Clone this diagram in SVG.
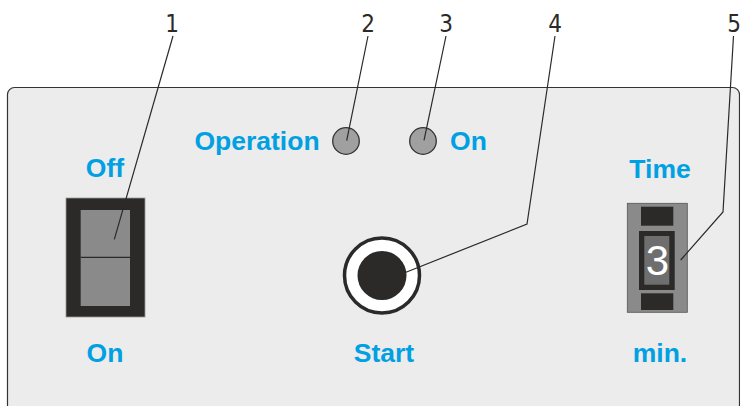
<svg xmlns="http://www.w3.org/2000/svg" width="740" height="406" viewBox="0 0 740 406">
<style>
.lbl{font-family:"Liberation Sans",Arial,sans-serif;font-weight:bold;font-size:26.5px;fill:#00a0e3;text-anchor:middle}
.num{font-family:"DejaVu Sans Condensed","DejaVu Sans",sans-serif;font-stretch:condensed;font-size:24px;fill:#2b2a29;text-anchor:middle}
.lead{fill:none;stroke:#2b2a29;stroke-width:1.2}
.dark{fill:#2b2a29}
.grey{fill:#8a8a8a}
</style>
<rect width="740" height="406" fill="#ffffff"/>
<g id="panel">
<rect x="7.5" y="87.5" width="732" height="340" rx="7" fill="#ebeceb" stroke="#333" stroke-width="1.2"/>
</g>
<g id="switch">
<rect x="66" y="198" width="79" height="119" class="dark" stroke="#9a9a9a" stroke-width="0.8"/>
<rect x="80.7" y="210" width="49.3" height="96" class="grey"/>
<line x1="80.7" y1="257.3" x2="130" y2="257.3" stroke="#2b2a29" stroke-width="1.2"/>
<text x="105" y="177" class="lbl">Off</text>
<text x="105" y="362" class="lbl">On</text>
</g>
<g id="led-operation">
<circle cx="346" cy="141" r="13.3" fill="#a0a0a0" stroke="#333" stroke-width="1.3"/>
<text x="257" y="150" class="lbl">Operation</text>
</g>
<g id="led-on">
<circle cx="423" cy="141" r="13.3" fill="#a0a0a0" stroke="#333" stroke-width="1.3"/>
<text x="468.5" y="150" class="lbl">On</text>
</g>
<g id="start">
<circle cx="382" cy="275.5" r="37.5" fill="#ffffff" stroke="#2b2a29" stroke-width="3.5"/>
<circle cx="382" cy="275.5" r="24.5" class="dark"/>
<text x="384" y="362" class="lbl">Start</text>
</g>
<g id="timer">
<rect x="627.3" y="203.3" width="60" height="109" class="grey" stroke="#555" stroke-width="0.8"/>
<rect x="641" y="206.7" width="32.3" height="19" class="dark"/>
<rect x="641" y="293.3" width="32.3" height="16.7" class="dark"/>
<rect x="639" y="231" width="35.7" height="59" class="dark"/>
<rect x="644.3" y="236" width="25" height="48.7" fill="#6e6e6e"/>
<text x="657.5" y="275" font-family="Liberation Sans,Arial,sans-serif" font-size="42" fill="#ffffff" text-anchor="middle">3</text>
<text x="660" y="178" class="lbl">Time</text>
<text x="660" y="362" class="lbl">min.</text>
</g>
<g id="connectors">
<polyline class="lead" points="173,36 114.3,239.3"/>
<polyline class="lead" points="368,36 346.7,140.7"/>
<polyline class="lead" points="446,36 424,140.3"/>
<polyline class="lead" points="555,36 527,224 406,272.3"/>
<polyline class="lead" points="733.5,36 723,212 680.7,260"/>
</g>
<g id="callouts">
<text x="172" y="32" class="num">1</text>
<text x="368" y="32" class="num">2</text>
<text x="446" y="32" class="num">3</text>
<text x="555" y="32" class="num">4</text>
<text x="734" y="32" class="num">5</text>
</g>
</svg>
